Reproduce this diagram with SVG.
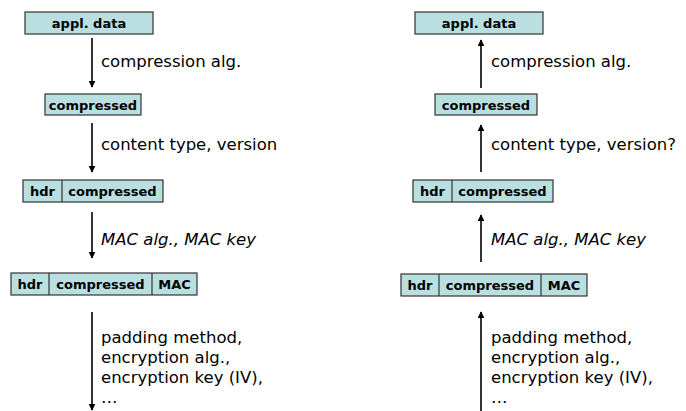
<svg xmlns="http://www.w3.org/2000/svg" width="686" height="411" viewBox="0 0 686 411">
  <style>
    .box { fill: #b9dfe1; stroke: #333; stroke-width: 1.2; }
    .div { stroke: #333; stroke-width: 1.2; }
    .bt { font-family: "DejaVu Sans", sans-serif; font-weight: bold; font-size: 13px; fill: #000; text-anchor: middle; }
    .lbl { font-family: "DejaVu Sans", sans-serif; font-size: 16.5px; fill: #000; }
    .it { font-style: italic; }
    .arr { stroke: #000; stroke-width: 1.6; fill: none; }
  </style>
  <defs>
    <marker id="head" viewBox="0 0 10 10" refX="9" refY="5" markerWidth="7" markerHeight="7" markerUnits="userSpaceOnUse" orient="auto">
      <path d="M0,0 L10,5 L0,10 Z" fill="#000"/>
    </marker>
  </defs>
  <rect width="686" height="411" fill="#fff"/>

  <!-- sender side: top to bottom -->
  <g id="s-appl">
    <rect class="box" x="25" y="12" width="128" height="22"/>
    <text class="bt" x="89" y="28">appl. data</text>
  </g>
  <g id="s-comp">
    <rect class="box" x="45" y="94" width="96" height="21"/>
    <text class="bt" x="93" y="109.5">compressed</text>
  </g>
  <g id="s-hdr">
    <rect class="box" x="23" y="180" width="140" height="22"/>
    <line class="div" x1="62" y1="180" x2="62" y2="202"/>
    <text class="bt" x="42.5" y="196">hdr</text>
    <text class="bt" x="112.5" y="196">compressed</text>
  </g>
  <g id="s-mac">
    <rect class="box" x="11" y="273" width="186" height="22"/>
    <line class="div" x1="49" y1="273" x2="49" y2="295"/>
    <line class="div" x1="152" y1="273" x2="152" y2="295"/>
    <text class="bt" x="30" y="289">hdr</text>
    <text class="bt" x="100.5" y="289">compressed</text>
    <text class="bt" x="174.5" y="289">MAC</text>
  </g>

  <!-- receiver side: bottom to top -->
  <g id="r-appl">
    <rect class="box" x="415" y="12" width="128" height="22"/>
    <text class="bt" x="479" y="28">appl. data</text>
  </g>
  <g id="r-comp">
    <rect class="box" x="435" y="94" width="102" height="21"/>
    <text class="bt" x="486" y="109.5">compressed</text>
  </g>
  <g id="r-hdr">
    <rect class="box" x="413" y="180" width="140" height="22"/>
    <line class="div" x1="452" y1="180" x2="452" y2="202"/>
    <text class="bt" x="432.5" y="196">hdr</text>
    <text class="bt" x="502.5" y="196">compressed</text>
  </g>
  <g id="r-mac">
    <rect class="box" x="401" y="274" width="186" height="22"/>
    <line class="div" x1="439" y1="274" x2="439" y2="296"/>
    <line class="div" x1="541" y1="274" x2="541" y2="296"/>
    <text class="bt" x="420" y="290">hdr</text>
    <text class="bt" x="490" y="290">compressed</text>
    <text class="bt" x="564" y="290">MAC</text>
  </g>

  <g id="connectors">
    <line class="arr" x1="92" y1="38" x2="92" y2="87" marker-end="url(#head)"/>
    <line class="arr" x1="92" y1="123" x2="92" y2="172" marker-end="url(#head)"/>
    <line class="arr" x1="92" y1="212" x2="92" y2="258" marker-end="url(#head)"/>
    <line class="arr" x1="92" y1="312" x2="92" y2="410" marker-end="url(#head)"/>

    <line class="arr" x1="481" y1="88" x2="481" y2="40" marker-end="url(#head)"/>
    <line class="arr" x1="481" y1="172" x2="481" y2="125" marker-end="url(#head)"/>
    <line class="arr" x1="481" y1="262" x2="481" y2="215" marker-end="url(#head)"/>
    <line class="arr" x1="481" y1="411" x2="481" y2="312" marker-end="url(#head)"/>
  </g>

  <g id="labels">
    <text class="lbl" x="101" y="67">compression alg.</text>
    <text class="lbl" x="101" y="150">content type, version</text>
    <text class="lbl it" x="101" y="245">MAC alg., MAC key</text>
    <text class="lbl" x="101" y="343">padding method,</text>
    <text class="lbl" x="101" y="363">encryption alg.,</text>
    <text class="lbl" x="101" y="383">encryption key (IV),</text>
    <text class="lbl" x="101" y="403">…</text>

    <text class="lbl" x="491" y="67">compression alg.</text>
    <text class="lbl" x="491" y="150">content type, version?</text>
    <text class="lbl it" x="491" y="245">MAC alg., MAC key</text>
    <text class="lbl" x="491" y="343">padding method,</text>
    <text class="lbl" x="491" y="363">encryption alg.,</text>
    <text class="lbl" x="491" y="383">encryption key (IV),</text>
    <text class="lbl" x="491" y="403">…</text>
  </g>
</svg>
